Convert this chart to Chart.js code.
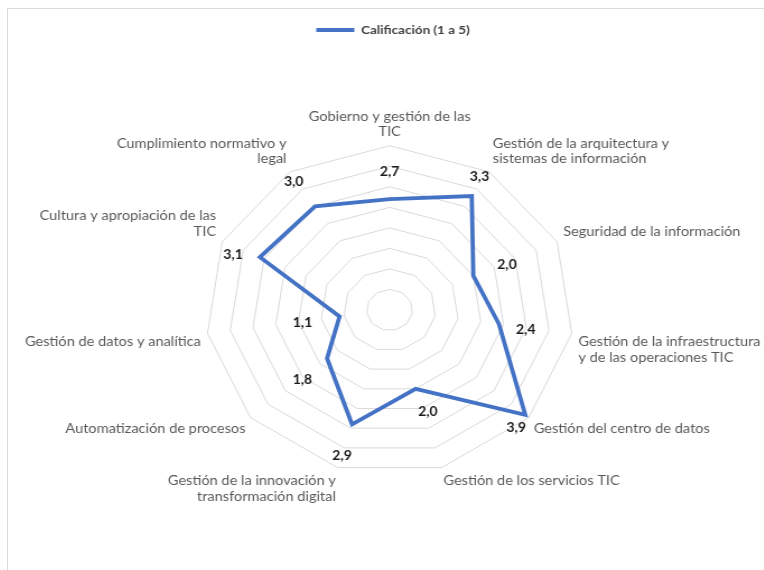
<!DOCTYPE html>
<html>
<head>
<meta charset="utf-8">
<script src="https://cdn.jsdelivr.net/npm/chart.js@4"></script>
<style>
  html, body { margin: 0; padding: 0; background: #fff; overflow: hidden; }
  body { width: 764px; height: 570px; position: relative; }
  #frame { position: absolute; left: 7px; top: 8px; width: 800px; height: 600px; border-left: 1.5px solid #dcdcdc; border-top: 1.5px solid #dcdcdc; }
  #wrap { position: absolute; left: 11px; top: -4px; width: 764px; height: 574px; }
  canvas { display: block; }
</style>
</head>
<body>
<div id="frame"></div>
<div id="wrap"><canvas id="c" width="682" height="574" style="width:764px;height:574px"></canvas></div>
<script>
const categories = [
  ["Gobierno y gestión de las", "TIC"],
  ["Gestión de la arquitectura y", "sistemas de información"],
  ["Seguridad de la información"],
  ["Gestión de la infraestructura", "y de las operaciones TIC"],
  ["Gestión del centro de datos"],
  ["Gestión de los servicios TIC"],
  ["Gestión de la innovación y", "transformación digital"],
  ["Automatización de procesos"],
  ["Gestión de datos y analítica"],
  ["Cultura y apropiación de las", "TIC"],
  ["Cumplimiento normativo y", "legal"]
];
const seriesName = "Calificación (1 a 5)";
const scores = [2.7, 3.3, 2.0, 2.4, 3.9, 2.0, 2.9, 1.8, 1.1, 3.1, 3.0];
const scaleMin = 0, scaleMax = 4, scaleStep = 0.5;

// style: pixel nudges of each value label away from its point (canvas units)
const labelNudges = [
  [0, -27], [7, -19], [30, -11], [24, 6], [-8, 13], [11, 23],
  [-9, 32], [-22, 22], [-33, 7], [-24, -2], [-19, -24]
];

const valueLabels = {
  id: 'valueLabels',
  afterDatasetsDraw(chart) {
    const r = chart.scales.r;
    const ctx = chart.ctx;
    ctx.save();
    ctx.font = 'bold 12.5px Lato';
    ctx.fillStyle = '#1a1a1a';
    ctx.textAlign = 'center';
    ctx.textBaseline = 'middle';
    chart.data.datasets[0].data.forEach((v, i) => {
      const p = r.getPointPositionForValue(i, v);
      const n = labelNudges[i];
      ctx.fillText(v.toFixed(1).replace('.', ','), p.x + n[0], p.y + n[1]);
    });
    ctx.restore();
  }
};

new Chart(document.getElementById('c'), {
  type: 'radar',
  data: {
    labels: categories,
    datasets: [{
      label: seriesName,
      data: scores,
      borderColor: '#4472C4',
      backgroundColor: 'rgba(0,0,0,0)',
      borderWidth: 3.8,
      pointRadius: 0,
      pointHoverRadius: 0,
      fill: false,
      tension: 0
    }]
  },
  options: {
    responsive: false,
    animation: false,
    devicePixelRatio: 1,
    layout: { padding: { top: 18, bottom: 4, left: 10, right: 10 } },
    plugins: {
      legend: {
        position: 'top',
        labels: {
          usePointStyle: true,
          pointStyle: 'line',
          pointStyleWidth: 34,
          color: '#404040',
          font: { family: 'Lato', size: 12, weight: 'bold' },
          padding: 10
        }
      },
      tooltip: { enabled: false }
    },
    scales: {
      r: {
        min: scaleMin,
        max: scaleMax,
        ticks: { stepSize: scaleStep, display: false },
        grid: { color: '#d9d9d9', lineWidth: 1 },
        angleLines: { display: false },
        pointLabels: {
          color: '#595959',
          font: { family: 'Lato', size: 13 },
          padding: 6
        }
      }
    }
  },
  plugins: [valueLabels]
});
</script>
</body>
</html>
